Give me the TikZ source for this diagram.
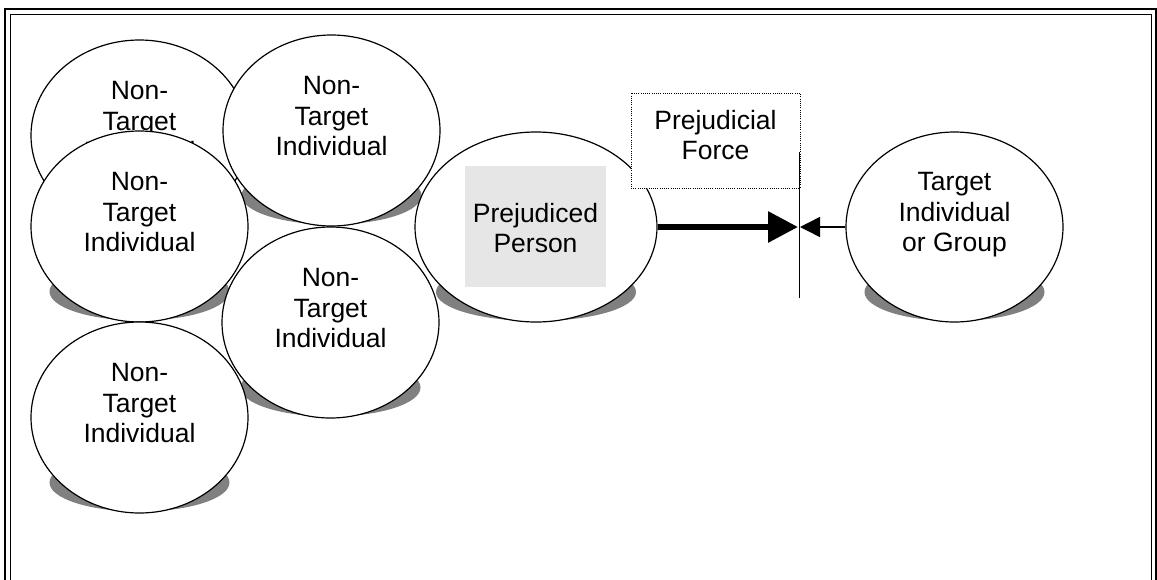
\documentclass[tikz,border=0pt]{standalone}
\usepackage{fontspec}
\setmainfont{Liberation Sans}
\usetikzlibrary{shapes.geometric,arrows.meta}
\definecolor{shadowgray}{HTML}{808080}
\definecolor{boxgray}{HTML}{E6E6E6}
\begin{document}
\begin{tikzpicture}[x=1pt,y=-1pt,
  oval/.style={ellipse,draw,line width=1.2pt,fill=white,
    minimum width=217pt,minimum height=191pt,inner sep=0pt},
  bigoval/.style={oval,minimum width=242pt,minimum height=190pt},
  ovalshadow/.style={fill=shadowgray},
  caption/.style={align=center,inner sep=0pt,
    font=\fontsize{26.5}{30.5}\selectfont},
  forcebox/.style={rectangle,draw,fill=white,line width=1pt,
    dash pattern=on 1pt off 1.2pt,minimum width=169pt,minimum height=95pt,inner sep=0pt},
  framethick/.style={line width=2pt},
  framethin/.style={line width=1.5pt},
  bigarrow/.style={line width=6pt,-{Triangle[length=30pt,width=30pt]}},
  smallarrow/.style={line width=1.5pt,-{Triangle[length=20pt,width=20pt]}},
  barline/.style={line width=1.3pt}
]
\useasboundingbox (0,0) rectangle (1157,579);

% double frame, open at the bottom
\draw[framethick] (5,580) -- (5,9) -- (1156,9) -- (1156,580);
\draw[framethin] (10.5,580) -- (10.5,14.5) -- (1151.5,14.5) -- (1151.5,580);

% non-target individuals, each with its shadow and caption
\coordinate (c1) at (139.5,135.5);
\fill[ovalshadow] ([yshift=-65pt]c1) ellipse (90 and 29);
\node[oval] (e1) at (c1) {};
\node[caption] (t1) at ([yshift=14pt]c1) {Non-\\Target\\Individual};

\coordinate (c2) at (331.5,130.5);
\fill[ovalshadow] ([yshift=-65pt]c2) ellipse (90 and 29);
\node[oval] (e2) at (c2) {};
\node[caption] (t2) at ([yshift=14pt]c2) {Non-\\Target\\Individual};

\coordinate (c3) at (139.5,226.5);
\fill[ovalshadow] ([yshift=-65pt]c3) ellipse (90 and 29);
\node[oval] (e3) at (c3) {};
\node[caption] (t3) at ([yshift=14pt]c3) {Non-\\Target\\Individual};

\coordinate (c4) at (330.5,322.5);
\fill[ovalshadow] ([yshift=-65pt]c4) ellipse (90 and 29);
\node[oval] (e4) at (c4) {};
\node[caption] (t4) at ([yshift=14pt]c4) {Non-\\Target\\Individual};

\coordinate (c5) at (139.5,417.5);
\fill[ovalshadow] ([yshift=-65pt]c5) ellipse (90 and 29);
\node[oval] (e5) at (c5) {};
\node[caption] (t5) at ([yshift=14pt]c5) {Non-\\Target\\Individual};

% prejudiced person
\coordinate (cp) at (536,227);
\fill[ovalshadow] ([yshift=-65pt]cp) ellipse (100 and 29);
\node[bigoval] (pp) at (cp) {};
\node[fill=boxgray,minimum width=141pt,minimum height=121pt,inner sep=0pt] (ppbox) at (535.5,226.5) {};
\node[caption] (ppt) at (535.5,228) {Prejudiced\\Person};

% target individual or group
\coordinate (ct) at (954.5,227);
\fill[ovalshadow] ([yshift=-65pt]ct) ellipse (90 and 29);
\node[oval,minimum height=190pt] (tg) at (ct) {};
\node[caption] (tgt) at ([yshift=12pt]ct) {Target\\Individual\\or Group};

% prejudicial force label and the barrier line
\node[forcebox] (force) at (715.5,140.5) {};
\node[caption] (forcet) at ([yshift=5.5pt]force.center) {Prejudicial\\Force};
\coordinate (bartop) at (799.5,152);
\coordinate (barbot) at (799.5,298);
\coordinate (hit) at (799.5,227);
\draw[barline] (bartop) -- (barbot);

% opposing forces meeting at the barrier
\draw[bigarrow] (pp.east) -- ([xshift=-1.5pt]hit);
\draw[smallarrow] (tg.west) -- ([xshift=0.5pt]hit);
\end{tikzpicture}
\end{document}
